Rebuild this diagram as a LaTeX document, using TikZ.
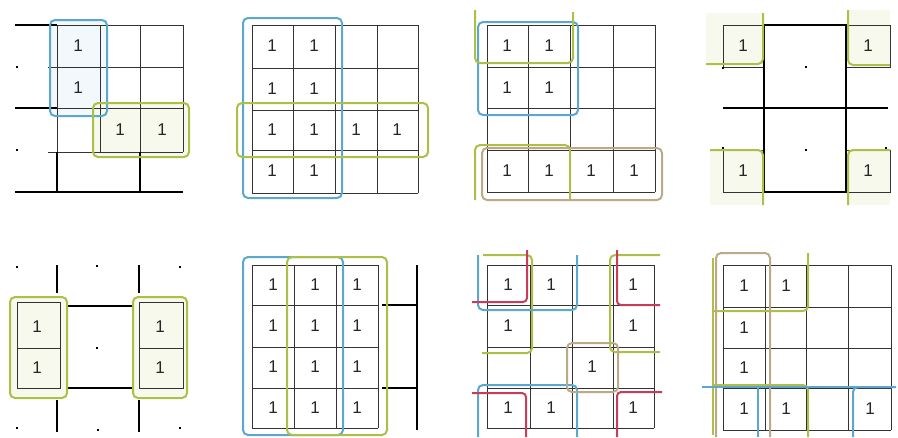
\documentclass[tikz,border=0pt]{standalone}
\usepackage{fontspec}
\setmainfont{Liberation Sans}
\definecolor{kblue}{RGB}{90,168,205}
\definecolor{kgreen}{RGB}{172,192,72}
\definecolor{kred}{RGB}{200,60,90}
\definecolor{ktan}{RGB}{188,170,135}
\tikzset{
 gridln/.style={draw=black!80, line width=0.9pt},
 boldln/.style={draw=black, line width=1.4pt},
 grpblue/.style={draw=kblue, line width=2pt, rounded corners=5pt},
 grpgreen/.style={draw=kgreen, line width=2pt, rounded corners=5pt},
 grpred/.style={draw=kred, line width=2pt, rounded corners=4pt},
 grptan/.style={draw=ktan, line width=2pt, rounded corners=5pt},
 one/.style={font=\fontsize{17}{17}\selectfont, text=black!85, inner sep=0pt},
 dotmark/.style={fill=black, minimum size=2.2pt, inner sep=0pt},
 tintg/.style={fill=kgreen!10},
 tintb/.style={fill=kblue!8},
}
\begin{document}
\begin{tikzpicture}[x=1pt,y=-1pt]
\useasboundingbox (0,0) rectangle (898,437);

% ---------------- Map 1 ----------------
\fill[tintb] (50,20) rectangle (107,116);
\fill[tintg] (93,103) rectangle (189,157);
\foreach \y in {25,67,108,152} \draw[gridln] (48,\y) -- (183,\y);
\foreach \x in {57,100,140,183} \draw[gridln] (\x,25) -- (\x,152);
\draw[boldln] (15,25) -- (57,25);
\draw[boldln] (15,108) -- (57,108);
\draw[boldln] (15,192) -- (183,192);
\draw[boldln] (57,152) -- (57,192);
\draw[boldln] (140,152) -- (140,192);
\node[dotmark] (m1d1) at (17,67) {};
\node[dotmark] (m1d2) at (17,150) {};
\node[one] (m1a) at (78,46) {1};
\node[one] (m1b) at (78,88) {1};
\node[one] (m1c) at (120,130) {1};
\node[one] (m1d) at (162,130) {1};
\draw[grpblue] (50,20) rectangle (107,116);
\draw[grpgreen] (93,103) rectangle (189,157);

% ---------------- Map 2 ----------------
\foreach \y in {25,68,110,150,193} \draw[gridln] (252,\y) -- (418,\y);
\foreach \x in {252,293,335,377,418} \draw[gridln] (\x,25) -- (\x,193);
\foreach \y/\r in {46/a,89/b,171/d}
  \foreach \x/\c in {272/1,314/2} \node[one] (m2\r\c) at (\x,\y) {1};
\foreach \x/\c in {272/1,314/2,356/3,397/4} \node[one] (m2c\c) at (\x,130) {1};
\draw[grpblue] (243,18) rectangle (342,198);
\draw[grpgreen] (237,103) rectangle (428,157);

% ---------------- Map 3 ----------------
\foreach \y in {25,67,108,150,192} \draw[gridln] (487,\y) -- (655,\y);
\foreach \x in {487,528,570,613,655} \draw[gridln] (\x,25) -- (\x,192);
\foreach \y/\r in {46/a,88/b}
  \foreach \x/\c in {507/1,549/2} \node[one] (m3\r\c) at (\x,\y) {1};
\foreach \x/\c in {507/1,549/2,591/3,634/4} \node[one] (m3d\c) at (\x,171) {1};
\draw[grpblue] (478,22) rectangle (578,115);
\draw[grpgreen] (475,10) -- (475,63) -- (573,63) -- (573,12);
\draw[grpgreen] (475,200) -- (475,145) -- (570,145) -- (570,200);
\draw[grptan] (482,148) rectangle (662,200);

% ---------------- Map 4 ----------------
\fill[tintg] (706,13) rectangle (763,64);
\fill[tintg] (848,10) rectangle (890,65);
\fill[tintg] (710,150) rectangle (763,205);
\fill[tintg] (848,150) rectangle (890,205);
\draw[gridln] (723,25) rectangle (764,67);
\draw[gridln] (846,25) rectangle (890,67);
\draw[gridln] (723,150) rectangle (764,192);
\draw[gridln] (846,150) rectangle (890,192);
\draw[boldln] (764,25) rectangle (846,192);
\draw[boldln] (723,108) -- (888,108);
\node[dotmark] (m4d1) at (723,68) {};
\node[dotmark] (m4d2) at (723,148) {};
\node[dotmark] (m4d3) at (886,148) {};
\node[dotmark] (m4d4) at (806,67) {};
\node[dotmark] (m4d5) at (806,150) {};
\node[one] (m4a) at (743,46) {1};
\node[one] (m4b) at (868,46) {1};
\node[one] (m4c) at (743,171) {1};
\node[one] (m4d) at (868,171) {1};
\draw[grpgreen] (706,64) -| (763,13);
\draw[grpgreen] (848,10) |- (890,65);
\draw[grpgreen] (710,150) -| (763,205);
\draw[grpgreen] (890,150) -| (848,205);

% ---------------- Map 5 ----------------
\fill[tintg] (10,297) rectangle (67,398);
\fill[tintg] (133,297) rectangle (187,398);
\draw[gridln] (17,302) rectangle (60,388);
\draw[gridln] (17,348) -- (60,348);
\draw[gridln] (139,302) rectangle (183,388);
\draw[gridln] (139,348) -- (183,348);
\draw[boldln] (57,265) -- (57,293);
\draw[boldln] (57,400) -- (57,432);
\draw[boldln] (139,265) -- (139,293);
\draw[boldln] (139,400) -- (139,432);
\draw[boldln] (67,306) -- (133,306);
\draw[boldln] (67,388) -- (133,388);
\node[dotmark] (m5d1) at (17,267) {};
\node[dotmark] (m5d2) at (97,266) {};
\node[dotmark] (m5d3) at (180,267) {};
\node[dotmark] (m5d4) at (17,428) {};
\node[dotmark] (m5d5) at (98,430) {};
\node[dotmark] (m5d6) at (180,428) {};
\node[dotmark] (m5d7) at (97,348) {};
\node[one] (m5a) at (37,327) {1};
\node[one] (m5b) at (37,368) {1};
\node[one] (m5c) at (160,327) {1};
\node[one] (m5d) at (160,368) {1};
\draw[grpgreen] (10,297) rectangle (67,398);
\draw[grpgreen] (133,297) rectangle (187,398);

% ---------------- Map 6 ----------------
\foreach \y in {265,305,347,388,428} \draw[gridln] (252,\y) -- (378,\y);
\foreach \x in {252,294,336,378} \draw[gridln] (\x,265) -- (\x,428);
\draw[boldln] (417,265) -- (417,430);
\draw[boldln] (382,305) -- (417,305);
\draw[boldln] (382,388) -- (417,388);
\foreach \y/\r in {285/a,326/b,367/c,408/d}
  \foreach \x/\c in {273/1,315/2,357/3} \node[one] (m6\r\c) at (\x,\y) {1};
\draw[grpblue] (243,257) rectangle (343,435);
\draw[grpgreen] (287,257) rectangle (387,435);

% ---------------- Map 7 ----------------
\foreach \y in {265,305,347,388,428} \draw[gridln] (487,\y) -- (654,\y);
\foreach \x in {487,530,572,613,654} \draw[gridln] (\x,265) -- (\x,428);
\node[one] (m7a1) at (508,285) {1};
\node[one] (m7a2) at (551,285) {1};
\node[one] (m7a4) at (633,285) {1};
\node[one] (m7b1) at (508,326) {1};
\node[one] (m7b4) at (633,326) {1};
\node[one] (m7c3) at (592,367) {1};
\node[one] (m7d1) at (508,408) {1};
\node[one] (m7d2) at (551,408) {1};
\node[one] (m7d4) at (633,408) {1};
\draw[grpgreen] (483,255) -- (532,255) -- (532,353) -- (482,353);
\draw[grpgreen] (660,255) -- (610,255) -- (610,352) -- (660,352);
\draw[grpblue] (478,255) -- (478,310) -- (577,310) -- (577,255);
\draw[grpblue] (478,437) -- (478,385) -- (577,385) -- (577,437);
\draw[grptan] (567,343) rectangle (618,392);
\draw[grpred] (472,302) -| (527,250);
\draw[grpred] (617,250) |- (660,305);
\draw[grpred] (472,393) -| (526,437);
\draw[grpred] (662,392) -| (617,437);

% ---------------- Map 8 ----------------
\foreach \y in {265,307,348,388,430} \draw[gridln] (723,\y) -- (891,\y);
\foreach \x in {723,765,806,848,891} \draw[gridln] (\x,265) -- (\x,430);
\node[one] (m8a1) at (744,286) {1};
\node[one] (m8a2) at (786,286) {1};
\node[one] (m8b1) at (744,328) {1};
\node[one] (m8c1) at (744,368) {1};
\node[one] (m8d1) at (744,409) {1};
\node[one] (m8d2) at (786,409) {1};
\node[one] (m8d4) at (870,409) {1};
\draw[grpgreen] (713,258) -- (713,435);
\draw[grpgreen] (713,311) -- (808,311) -- (808,253);
\draw[grpgreen] (713,385) -- (808,385) -- (808,437);
\draw[grptan] (716,437) -- (716,253) -- (770,253) -- (770,437);
\draw[kblue, line width=2pt] (702,387) -- (896,387);
\draw[grpblue] (758,387) -- (758,437);
\draw[grpblue] (853,437) -- (853,387) -- (896,387);
\end{tikzpicture}
\end{document}
